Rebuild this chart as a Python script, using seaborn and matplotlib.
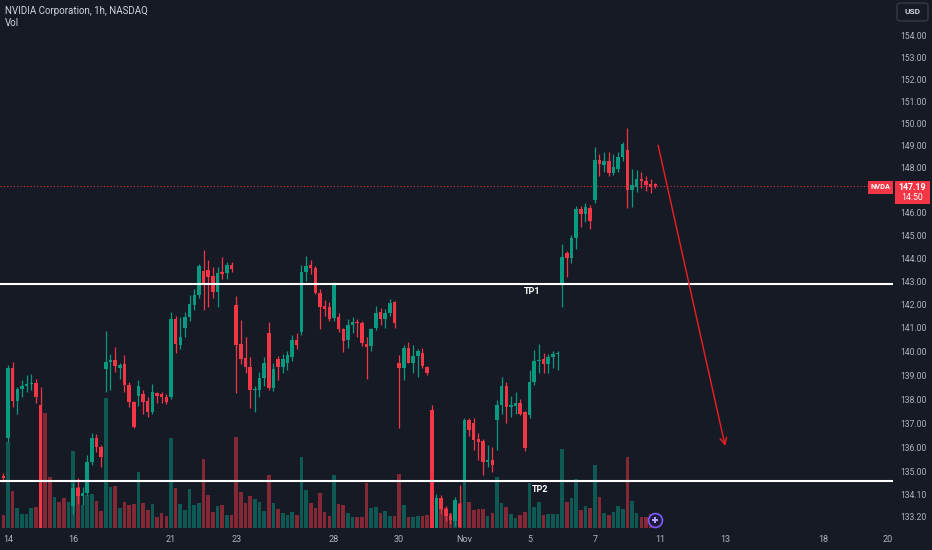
import numpy as np
import pandas as pd
import matplotlib
matplotlib.use("Agg")
import matplotlib.pyplot as plt
from matplotlib.patches import Rectangle, FancyBboxPatch
import matplotlib.transforms as mtransforms
from matplotlib.ticker import NullLocator, NullFormatter
import seaborn as sns

# ---------------- data (NVDA 1h) ----------------
# bar -1 = last bar of Oct 11, bar 0 = first bar of Oct 14, 7 bars per session
opens = [
    134.85,
    136.38, 139.29, 137.93, 138.42, 138.56, 138.63, 138.69,      # Oct 14
    137.77, 132.40, 131.80, 131.50, 131.90, 131.70, 131.50,      # Oct 15
    133.60, 134.35, 134.00, 134.15, 135.41, 136.40, 136.00,      # Oct 16
    139.25, 139.57, 139.62, 139.30, 139.47, 138.59, 137.86,      # Oct 17
    138.13, 138.21, 137.93, 137.47, 138.24, 138.20, 138.10,      # Oct 18
    138.07, 141.38, 140.26, 140.98, 141.45, 141.98, 142.40,      # Oct 21
    143.46, 143.49, 143.22, 142.55, 143.39, 143.35, 143.71,      # Oct 22
    141.98, 140.31, 139.71, 139.35, 138.38, 138.38, 138.87,      # Oct 23
    140.77, 138.45, 139.67, 139.35, 139.50, 139.78, 140.48,      # Oct 24
    140.84, 143.38, 143.70, 143.56, 142.48, 141.93, 141.90,      # Oct 25
    141.42, 141.46, 140.94, 140.48, 141.13, 141.25, 141.20,      # Oct 28
    140.31, 140.25, 140.98, 141.68, 141.40, 141.64, 142.10,      # Oct 29
    139.50, 139.29, 140.14, 139.51, 139.79, 139.95, 139.36,      # Oct 30
    137.55, 132.40, 133.95, 133.50, 133.20, 133.00, 133.70,      # Oct 31
    134.65, 137.12, 137.00, 136.33, 136.27, 135.41, 135.50,      # Nov 1
    137.12, 137.75, 138.55, 137.68, 137.70, 137.85, 137.47,      # Nov 4
    137.33, 138.73, 139.61, 139.67, 139.47, 139.78, 139.88,      # Nov 5
    142.91, 144.21, 143.99, 144.86, 146.14, 145.93, 146.20,      # Nov 6
    146.54, 148.34, 148.10, 148.30, 147.75, 147.95, 148.45,      # Nov 7
    148.80, 147.00, 147.15, 147.49, 147.38, 147.28, 147.25,      # Nov 8
]
highs = [
    134.95,
    139.43, 139.56, 138.52, 138.80, 139.01, 139.05, 138.83,
    138.52, 132.60, 132.10, 132.00, 132.20, 132.00, 131.90,
    134.55, 134.74, 134.40, 135.68, 136.60, 136.56, 136.10,
    140.88, 139.90, 140.20, 139.50, 139.85, 138.70, 137.90,
    138.80, 138.40, 138.10, 138.63, 138.30, 138.30, 138.20,
    141.67, 141.50, 141.45, 141.69, 142.40, 142.65, 143.75,
    144.36, 143.90, 143.60, 143.60, 144.05, 143.85, 143.85,
    142.37, 141.35, 140.60, 139.78, 138.55, 139.15, 139.78,
    141.25, 139.50, 139.80, 139.90, 140.00, 140.68, 140.80,
    143.70, 144.09, 143.92, 143.65, 142.65, 142.20, 142.12,
    142.95, 141.64, 141.00, 141.37, 141.45, 141.40, 141.30,
    140.62, 141.00, 141.93, 141.84, 141.80, 142.24, 142.15,
    139.85, 140.28, 140.40, 140.28, 140.10, 140.15, 139.40,
    137.75, 134.10, 134.05, 133.60, 133.35, 133.98, 134.46,
    137.23, 137.20, 137.20, 136.60, 136.35, 136.10, 136.00,
    137.95, 138.93, 138.70, 138.13, 138.30, 138.00, 137.50,
    139.22, 140.06, 140.30, 139.95, 139.90, 140.00, 140.00,
    144.60, 144.30, 145.00, 146.30, 146.30, 146.40, 146.35,
    148.94, 148.60, 148.70, 148.70, 148.60, 148.70, 149.15,
    149.77, 147.95, 147.90, 147.80, 147.60, 147.50, 147.30,
]
lows = [
    134.60,
    136.24, 137.68, 137.37, 138.10, 138.31, 138.38, 137.82,
    132.10, 131.40, 131.20, 131.30, 131.50, 131.30, 131.30,
    133.30, 133.70, 133.65, 134.05, 135.30, 135.82, 135.20,
    138.31, 138.38, 139.15, 138.83, 138.31, 137.68, 136.80,
    137.72, 137.40, 137.26, 137.40, 137.82, 137.85, 137.80,
    137.99, 139.92, 140.10, 140.63, 141.30, 141.76, 142.30,
    141.76, 141.90, 142.30, 141.90, 143.10, 143.10, 143.40,
    138.24, 139.45, 139.10, 137.61, 137.45, 138.10, 138.55,
    138.40, 138.35, 138.80, 139.10, 139.20, 139.60, 140.10,
    140.70, 142.99, 143.30, 142.45, 140.94, 141.50, 141.30,
    141.30, 140.84, 139.97, 140.14, 140.80, 140.60, 140.23,
    138.83, 140.00, 140.90, 141.13, 141.00, 141.50, 140.98,
    136.79, 138.80, 139.50, 139.08, 138.94, 139.30, 139.00,
    132.10, 132.20, 133.30, 133.00, 132.90, 132.80, 132.60,
    134.57, 136.45, 135.89, 135.48, 134.87, 135.20, 135.00,
    135.89, 137.40, 137.00, 137.26, 137.40, 137.35, 135.85,
    137.20, 138.60, 139.10, 139.10, 139.08, 139.30, 139.20,
    141.90, 143.20, 143.80, 144.40, 145.38, 145.60, 145.26,
    146.40, 147.60, 147.80, 147.60, 147.65, 147.80, 148.30,
    146.20, 146.25, 146.90, 147.10, 146.95, 146.85, 147.10,
]
closes = [
    134.75,
    139.29, 137.93, 138.42, 138.56, 138.63, 138.69, 138.10,
    132.40, 131.80, 131.50, 131.90, 131.70, 131.50, 131.60,
    134.35, 134.00, 134.15, 135.41, 136.37, 136.00, 135.62,
    139.57, 139.62, 139.38, 139.42, 138.59, 137.86, 136.86,
    138.56, 137.87, 137.47, 138.28, 138.13, 138.07, 137.88,
    141.38, 140.31, 140.63, 141.45, 142.00, 142.40, 143.66,
    142.84, 143.20, 142.55, 143.37, 143.30, 143.71, 143.52,
    140.27, 139.67, 139.33, 138.38, 138.43, 138.87, 139.50,
    138.45, 139.26, 139.33, 139.70, 139.86, 140.48, 140.27,
    143.41, 143.66, 143.56, 142.48, 141.90, 141.79, 141.38,
    142.91, 140.94, 140.44, 141.13, 141.23, 141.20, 140.37,
    140.20, 140.97, 141.64, 141.40, 141.64, 142.07, 141.20,
    139.30, 140.14, 139.51, 139.79, 140.00, 139.38, 139.08,
    132.40, 133.95, 133.50, 133.20, 133.05, 133.86, 132.76,
    137.12, 136.72, 136.30, 136.24, 135.41, 135.50, 135.27,
    137.75, 138.55, 137.68, 137.75, 137.85, 137.40, 135.96,
    138.73, 139.61, 139.66, 139.47, 139.78, 139.88, 139.95,
    144.07, 143.99, 144.86, 146.14, 145.93, 146.23, 145.61,
    148.34, 148.14, 148.30, 147.75, 148.00, 148.49, 149.07,
    147.00, 147.22, 147.49, 147.38, 147.22, 147.12, 147.19,
]
volumes = [  # millions of shares
    6.5,
    43, 18.5, 10, 7, 7, 10, 10.5,
    50, 57.5, 25.5, 15.5, 13, 15, 13,
    38.5, 20.5, 11.5, 16.5, 17, 13.5, 8.5,
    65, 20.5, 21, 10, 13, 11.5, 12,
    28, 12.5, 9, 12, 5.5, 7.5, 6,
    45, 20, 12, 9, 19.5, 11.5, 12.5,
    34.5, 16.5, 8, 11, 11.5, 6.5, 6.5,
    45.5, 18, 12.5, 16, 14.5, 13, 8.5,
    26.5, 12.5, 9.5, 7.5, 6.5, 8, 6.5,
    35.5, 19, 12.5, 10, 17.5, 8, 6,
    26.5, 12, 11.5, 7.5, 5.5, 5.5, 5.5,
    22.5, 10, 10.5, 7.5, 8.5, 6, 6,
    27, 11.5, 5.5, 5.5, 6, 6, 6.5,
    50, 15, 13, 10, 7.5, 14, 12.5,
    30, 13, 9, 9.5, 9.5, 6, 7.5,
    25.5, 12.5, 10.5, 7, 5, 6.5, 8,
    22.5, 10.5, 13, 6.5, 7, 7, 7,
    39.5, 13, 15, 24.5, 9, 11, 10,
    31.5, 15.5, 7.5, 6.5, 8, 11, 9.5,
    35.5, 13.5, 7.5, 5.5, 5.5, 7, 6,
]
bars = np.arange(-1, len(opens) - 1)

# x-axis: first bar of each labelled session
day_tick_bars = [0, 14, 35, 49, 70, 84, 98, 112, 126, 140, 154, 175, 189]
day_tick_labels = ["14", "16", "21", "23", "28", "30", "Nov", "5", "7", "11", "13", "18", "20"]

price_ticks = [154, 153, 152, 151, 150, 149, 148, 146, 145, 144, 143, 142, 141,
               140, 139, 138, 137, 136, 135, 134.10, 133.20]
last_price = 147.19
last_countdown = "14:50"
tp1_price = 142.90
tp2_price = 134.62
arrow_start = (139.6, 149.0)
arrow_end = (154.0, 136.06)

# ---------------- styling ----------------
BG = "#161A25"
UP = "#089981"
DOWN = "#F23645"
TXT = "#B2B5BE"

sns.set_theme(style="dark", rc={"axes.facecolor": BG, "figure.facecolor": BG})
plt.rcParams["font.family"] = ["Roboto", "DejaVu Sans"]

W, H = 932, 550
fig = plt.figure(figsize=(W / 100, H / 100), dpi=100, facecolor=BG)
ax = fig.add_axes([0, 22 / H, 893 / W, 528 / H])
ax2 = ax.twinx()
ax.set_zorder(2)
ax.patch.set_visible(False)
ax2.set_zorder(1)

def fx(px):
    return px / W

def fy(py):
    return 1 - py / H

o = np.array(opens); h = np.array(highs); l = np.array(lows); c = np.array(closes)
up = c >= o
direction = np.where(up, "up", "down")

# volume (seaborn bars on overlay axis)
df = pd.DataFrame({"bar": bars, "vol": volumes, "dir": direction})
sns.barplot(data=df, x="bar", y="vol", hue="dir", palette={"up": UP, "down": DOWN},
            native_scale=True, dodge=False, width=0.78, alpha=0.5, saturation=1,
            linewidth=0, errorbar=None, legend=False, ax=ax2)
ax2.set_ylim(0, 264)
ax2.set_yticks([])
ax2.set_xlabel("")
ax2.set_ylabel("")
ax2.tick_params(right=False, labelright=False)

# candles
colors = np.where(up, UP, DOWN)
ax.vlines(bars, l, h, colors=colors, linewidth=0.9, zorder=3)
body_lo = np.minimum(o, c)
body_h = np.maximum(np.abs(c - o), 0.05)
ax.bar(bars, body_h, bottom=body_lo, width=0.76, color=colors, linewidth=0, zorder=4)

ax.set_yscale("log")
ax.set_ylim(132.73, 155.68)
ax.set_xlim(-1.718, 190.04)
ax2.set_xlim(-1.718, 190.04)

ax.yaxis.tick_right()
ax.set_yticks(price_ticks, labels=[f"{v:.2f}" for v in price_ticks])
ax.yaxis.set_minor_locator(NullLocator())
ax.yaxis.set_minor_formatter(NullFormatter())
ax.tick_params(axis="y", which="both", length=0, pad=5, labelsize=6.2, labelcolor=TXT)
ax.set_xticks(day_tick_bars, labels=day_tick_labels)
ax.tick_params(axis="x", length=0, pad=5, labelsize=6.5, labelcolor=TXT)
ax.grid(False)
ax2.grid(False)
for a in (ax, ax2):
    for s in a.spines.values():
        s.set_visible(False)

# TP levels
for price, name, xlab in [(tp1_price, "TP1", 112.5), (tp2_price, "TP2", 114.2)]:
    ax.axhline(price, color="white", linewidth=1.5, zorder=5)
    ax.annotate(name, xy=(xlab, price), xytext=(0, -8), textcoords="offset pixels",
                ha="center", va="center", color="white", fontsize=6.5,
                fontweight="bold", zorder=6)

# last price dotted line
ax.axhline(last_price, xmin=0, xmax=868 / 893, color=DOWN, linewidth=0.8,
           linestyle=(0, (1, 2)), alpha=0.9, zorder=2)

# forecast arrow
ax.annotate("", xy=arrow_end, xytext=arrow_start,
            arrowprops=dict(arrowstyle="->", color="#F01E23", lw=1.0,
                            mutation_scale=12, shrinkA=0, shrinkB=0), zorder=6)

# icon near the last bar
trans = mtransforms.blended_transform_factory(ax.transData, ax.transAxes)
ax.plot([138.9], [0.0152], marker="o", markersize=10, markerfacecolor="#1E1B3A",
        markeredgecolor="#7B5CFF", markeredgewidth=1.2, transform=trans, zorder=7,
        clip_on=False)
ax.plot([138.9], [0.0152], marker="+", markersize=5, markeredgecolor="#B8A6FF",
        markeredgewidth=1.4, transform=trans, zorder=8, clip_on=False)

# header texts
fig.text(fx(5), fy(11), "NVIDIA Corporation, 1h, NASDAQ", color="#D1D4DC",
         fontsize=7, va="center", ha="left")
fig.text(fx(5), fy(23), "Vol", color="#D1D4DC", fontsize=7, va="center", ha="left")

# USD box
fig.patches.append(FancyBboxPatch((fx(897), fy(21)), 31 / W, 18 / H,
                                  boxstyle="round,pad=0,rounding_size=0.004",
                                  edgecolor="#363A45", facecolor=BG, linewidth=1,
                                  transform=fig.transFigure, figure=fig))
fig.text(fx(912.5), fy(12), "USD", color="#D1D4DC", fontsize=6, ha="center",
         va="center", fontweight="bold")

# price tags
fig.patches.append(Rectangle((fx(868), fy(194)), 25 / W, 13 / H, facecolor=DOWN,
                             edgecolor="none", transform=fig.transFigure, figure=fig))
fig.text(fx(880.5), fy(187.5), "NVDA", color="white", fontsize=5.3,
         fontweight="bold", ha="center", va="center")
fig.patches.append(Rectangle((fx(895), fy(204)), 35 / W, 23 / H, facecolor=DOWN,
                             edgecolor="none", transform=fig.transFigure, figure=fig))
fig.text(fx(912.5), fy(187), f"{last_price:.2f}", color="white", fontsize=6.3,
         fontweight="bold", ha="center", va="center")
fig.text(fx(912.5), fy(198), last_countdown, color="white", fontsize=6.3,
         ha="center", va="center")

fig.savefig("out.png", dpi=100, facecolor=BG)
